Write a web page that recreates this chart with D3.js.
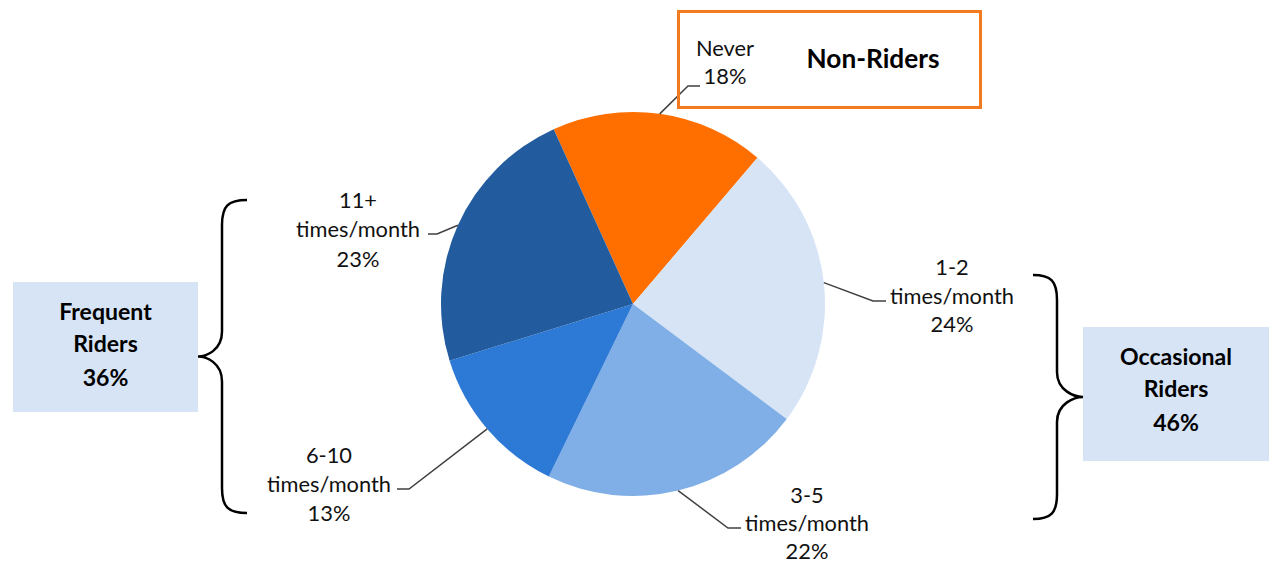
<!DOCTYPE html>
<html><head><meta charset="utf-8">
<script src="https://cdn.jsdelivr.net/npm/d3@7"></script>
<style>html,body{margin:0;padding:0;background:#fff;}svg{display:block;}</style>
</head><body>
<svg id="chart" width="1269" height="564"></svg>
<script>
// ---- data ----
const categories = ["Never", "1-2 times/month", "3-5 times/month", "6-10 times/month", "11+ times/month"];
const values = [18, 24, 22, 13, 23];
const sliceColors = ["#FF6F00", "#D6E4F6", "#80AEE6", "#2D79D6", "#225C9F"];
const groupNames = ["Non-Riders", "Frequent Riders", "Occasional Riders"];
const groupValues = [null, 36, 46];

// ---- layout ----
const cx = 633, cy = 304, R = 192;
const startDeg = -24.4;
const font = "Lato, 'Open Sans', sans-serif";
const svg = d3.select("#chart");

// fit a font size so a sample string has the reference width
function fitSize(sample, weight, target) {
  const t = svg.append("text").attr("font-family", font).attr("font-weight", weight)
    .attr("font-size", 100).text(sample);
  const w = t.node().getComputedTextLength();
  t.remove();
  return 100 * target / w;
}
const labelSize = fitSize("times/month", "normal", 124);
const boldSize = fitSize("Occasional", "bold", 112);
const titleSize = fitSize("Non-Riders", "bold", 133);

const pie = d3.pie().sort(null).value(d => d)
  .startAngle(startDeg * Math.PI / 180)
  .endAngle(startDeg * Math.PI / 180 + 2 * Math.PI);
const arcs = pie(values);
const arc = d3.arc().innerRadius(0).outerRadius(R);

const g = svg.append("g").attr("transform", `translate(${cx},${cy})`);
g.selectAll("path.slice").data(arcs).enter().append("path")
  .attr("class", "slice")
  .attr("d", arc)
  .attr("fill", (d, i) => sliceColors[i]);

// label layout (elbow/end points and text centres)
const labelLayout = [
  { elbow: [688, 86], end: [700, 86], tx: 725, ty: [47, 75] },
  { elbow: [873, 301], end: [886, 301], tx: 952, ty: [266, 295, 323] },
  { elbow: [728, 528], end: [741, 528], tx: 807, ty: [494, 522, 550] },
  { elbow: [409, 489], end: [397, 489], tx: 329, ty: [454, 483, 512] },
  { elbow: [437, 234], end: [428, 234], tx: 358, ty: [199, 228, 258] }
];

arcs.forEach((a, i) => {
  const mid = (a.startAngle + a.endAngle) / 2;
  const px = cx + R * Math.sin(mid), py = cy - R * Math.cos(mid);
  const L = labelLayout[i];
  svg.append("path")
    .attr("d", d3.line()([[px, py], L.elbow, L.end]))
    .attr("fill", "none").attr("stroke", "#404040").attr("stroke-width", 1.5);
  const cat = categories[i];
  const sp = cat.indexOf(" ");
  const lines = sp < 0 ? [cat] : [cat.slice(0, sp), cat.slice(sp + 1)];
  lines.push(values[i] + "%");
  const t = svg.append("text").attr("text-anchor", "middle")
    .attr("font-family", font).attr("font-size", labelSize).attr("fill", "#111");
  lines.forEach((s, j) => {
    t.append("tspan").attr("x", L.tx).attr("y", L.ty[j]).attr("dominant-baseline", "central").text(s);
  });
});

// Non-Riders box
svg.append("rect").attr("x", 678.5).attr("y", 11.5).attr("width", 302).attr("height", 96)
  .attr("fill", "none").attr("stroke", "#F47A1F").attr("stroke-width", 3);
svg.append("text").attr("x", 873).attr("y", 58).attr("text-anchor", "middle")
  .attr("dominant-baseline", "central").attr("font-family", font)
  .attr("font-weight", "bold").attr("font-size", titleSize).attr("fill", "#000").text(groupNames[0]);

// group boxes
function groupBox(x, y, w, h, name, val, lineYs) {
  svg.append("rect").attr("x", x).attr("y", y).attr("width", w).attr("height", h).attr("fill", "#D6E4F6");
  const parts = name.split(" ").concat([val + "%"]);
  const t = svg.append("text").attr("text-anchor", "middle").attr("font-family", font)
    .attr("font-weight", "bold").attr("font-size", boldSize).attr("fill", "#000");
  parts.forEach((s, j) => t.append("tspan").attr("x", x + w / 2).attr("y", lineYs[j])
    .attr("dominant-baseline", "central").text(s));
}
groupBox(13, 282, 185, 130, groupNames[1], groupValues[1], [311, 343, 377]);
groupBox(1083, 327, 186, 134, groupNames[2], groupValues[2], [356, 388, 422]);

// braces
function brace(xEnd, xMid, xTip, yTop, yBot) {
  const ym = (yTop + yBot) / 2;
  const s = Math.sign(xEnd - xMid);
  const r = 25;
  const p = d3.path();
  p.moveTo(xEnd, yTop);
  p.bezierCurveTo(xMid + s * 6, yTop, xMid, yTop + 6, xMid, yTop + r);
  p.lineTo(xMid, ym - r);
  p.bezierCurveTo(xMid, ym - 6, xTip + s * 8, ym, xTip, ym);
  p.bezierCurveTo(xTip + s * 8, ym, xMid, ym + 6, xMid, ym + r);
  p.lineTo(xMid, yBot - r);
  p.bezierCurveTo(xMid, yBot - 6, xMid + s * 6, yBot, xEnd, yBot);
  svg.append("path").attr("d", p.toString()).attr("fill", "none")
    .attr("stroke", "#000").attr("stroke-width", 2.5);
}
brace(247, 222, 198, 200, 513);
brace(1033, 1057, 1083, 275, 519);
</script>
</body></html>
